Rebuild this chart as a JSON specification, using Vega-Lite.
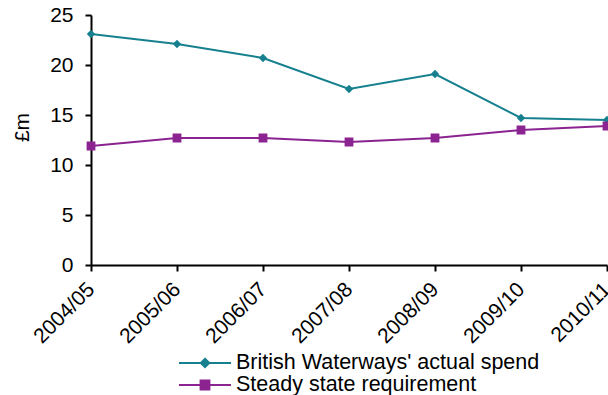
{
  "$schema": "https://vega.github.io/schema/vega-lite/v6.json",
  "width": 516,
  "height": 250,
  "autosize": {"type": "none"},
  "padding": {"left": 91, "top": 15, "right": 1, "bottom": 130},
  "background": "white",
  "config": {
    "view": {"stroke": null},
    "font": "Liberation Sans",
    "axis": {
      "domainColor": "black",
      "domainWidth": 2,
      "tickColor": "black",
      "tickWidth": 2,
      "tickSize": 6,
      "labelFont": "Liberation Sans",
      "labelFontSize": 21,
      "labelColor": "black",
      "titleFont": "Liberation Sans",
      "titleFontSize": 21,
      "titleFontWeight": "normal",
      "titleColor": "black",
      "grid": false
    }
  },
  "data": {
    "values": [
      {"year": "2004/05", "series": "British Waterways' actual spend", "value": 23.1},
      {"year": "2005/06", "series": "British Waterways' actual spend", "value": 22.1},
      {"year": "2006/07", "series": "British Waterways' actual spend", "value": 20.7},
      {"year": "2007/08", "series": "British Waterways' actual spend", "value": 17.6},
      {"year": "2008/09", "series": "British Waterways' actual spend", "value": 19.1},
      {"year": "2009/10", "series": "British Waterways' actual spend", "value": 14.7},
      {"year": "2010/11", "series": "British Waterways' actual spend", "value": 14.5},
      {"year": "2004/05", "series": "Steady state requirement", "value": 11.9},
      {"year": "2005/06", "series": "Steady state requirement", "value": 12.7},
      {"year": "2006/07", "series": "Steady state requirement", "value": 12.7},
      {"year": "2007/08", "series": "Steady state requirement", "value": 12.3},
      {"year": "2008/09", "series": "Steady state requirement", "value": 12.7},
      {"year": "2009/10", "series": "Steady state requirement", "value": 13.5},
      {"year": "2010/11", "series": "Steady state requirement", "value": 13.9}
    ]
  },
  "encoding": {
    "x": {
      "field": "year",
      "type": "ordinal",
      "scale": {"type": "point", "padding": 0},
      "axis": {"title": null, "labelAngle": -45, "labelAlign": "right", "labelBaseline": "middle", "labelPadding": 15}
    },
    "y": {
      "field": "value",
      "type": "quantitative",
      "scale": {"domain": [0, 25], "nice": false},
      "axis": {"title": "£m", "values": [0, 5, 10, 15, 20, 25], "labelPadding": 12, "titleX": -59, "titleY": 112}
    },
    "color": {
      "field": "series",
      "type": "nominal",
      "scale": {"domain": ["British Waterways' actual spend", "Steady state requirement"], "range": ["#16808F", "#8B2390"]},
      "legend": {
        "title": null,
        "orient": "none",
        "legendX": 103,
        "legendY": 337,
        "direction": "vertical",
        "padding": 0,
        "rowPadding": 0,
        "symbolSize": 400,
        "symbolStrokeWidth": 2,
        "labelFont": "Liberation Sans",
        "labelFontSize": 21.5,
        "labelColor": "black",
        "labelLimit": 400,
        "labelOffset": 20,
        "encode": {
          "symbols": {
            "update": {
              "stroke": {"scale": "color", "field": "value"},
              "strokeWidth": {"value": 2},
              "opacity": {"value": 1}
            }
          }
        }
      }
    }
  },
  "layer": [
    {"mark": {"type": "line", "strokeWidth": 2}},
    {
      "mark": {"type": "point", "filled": true, "opacity": 1},
      "encoding": {
        "shape": {
          "field": "series",
          "type": "nominal",
          "scale": {
            "domain": ["British Waterways' actual spend", "Steady state requirement"],
            "range": ["M-2.6,0L2.6,0M0,-0.42L0.42,0L0,0.42L-0.42,0Z", "M-2.6,0L2.6,0M-0.44,-0.44L0.44,-0.44L0.44,0.44L-0.44,0.44Z"]
          }
        },
        "size": {"value": 400}
      }
    }
  ]
}
